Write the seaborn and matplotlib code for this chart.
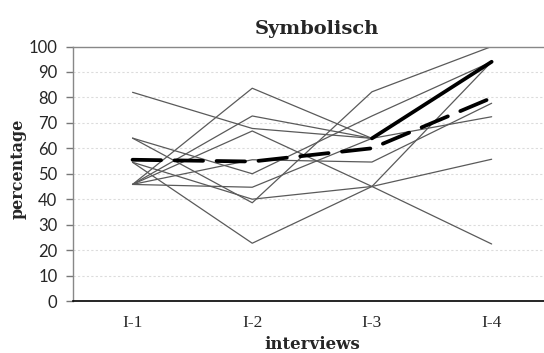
import numpy as np
import pandas as pd
import matplotlib
matplotlib.use("Agg")
import matplotlib.pyplot as plt
import seaborn as sns

# data
interviews = ["I-1", "I-2", "I-3", "I-4"]
p01 = [82.0, 67.8, 63.9, 94.0]
p02 = [64.0, 50.0, 72.7, 94.0]
p03 = [64.0, 38.6, 82.2, 100.0]
p04 = [54.5, 22.7, 45.0, 55.7]
p05 = [54.5, 40.0, 45.0, 22.4]
p06 = [45.8, 83.6, 63.9, 94.0]
p07 = [45.8, 72.7, 63.9, 72.4]
p08 = [45.8, 66.8, 45.0, 94.0]
p09 = [45.8, 55.5, 54.6, 77.7]
p10 = [45.8, 44.7, 63.9, 94.0]
mean_vals = [55.5, 54.8, 60.0, 79.8]
thick_vals = [np.nan, np.nan, 63.9, 94.0]
yticks = list(range(0, 101, 10))

participants = [p01, p02, p03, p04, p05, p06, p07, p08, p09, p10]
pos = np.arange(len(interviews))
df = pd.DataFrame(
    [(i, x, v) for i, vals in enumerate(participants) for x, v in zip(pos, vals)],
    columns=["participant", "pos", "value"],
)

sns.set_style("white")
plt.rcParams["font.family"] = ["DejaVu Serif"]

fig = plt.figure(figsize=(5.44, 3.53), dpi=100)
ax = fig.add_axes([72.7 / 544, 52 / 353, 478.8 / 544, 254.5 / 353])

for y in yticks[1:-1]:
    ax.axhline(y, color="#dcdcdc", lw=0.8, ls=(0, (2, 2)), zorder=0)

sns.lineplot(data=df, x="pos", y="value", units="participant", estimator=None,
             color="#5a5a5a", lw=0.9, ax=ax, legend=False)
sns.lineplot(x=pos, y=mean_vals, color="black", lw=2.7, ax=ax,
             linestyle=(0, (7.6, 3.6)), dash_capstyle="round")
sns.lineplot(x=pos, y=thick_vals, color="black", lw=2.7, ax=ax,
             solid_capstyle="round")

ax.set_xlim(-0.5, 3.5)
ax.set_ylim(0, 100)
ax.set_yticks(yticks)
ax.set_yticklabels([str(t) for t in yticks], family="Lato", fontsize=12)
ax.set_xticks(pos)
ax.set_xticklabels(interviews, family="Liberation Serif", fontsize=12.5)
ax.set_xticks(pos[:-1] + 0.5, minor=True)
ax.tick_params(axis="x", which="major", length=0, pad=10)
ax.tick_params(axis="x", which="minor", length=4, color="#555555", width=1)
ax.tick_params(axis="y", length=5, color="#777777", width=1, pad=6, left=True)

for side in ["left", "top"]:
    ax.spines[side].set_color("#888888")
    ax.spines[side].set_linewidth(1)
ax.spines["bottom"].set_color("black")
ax.spines["bottom"].set_linewidth(1.2)
ax.spines["right"].set_visible(False)

ax.set_xlabel("interviews", fontsize=12, fontweight="bold", labelpad=4)
ax.set_ylabel("percentage", fontsize=11.5, fontweight="bold", labelpad=6)
ax.yaxis.set_label_coords(-0.097, 0.52)
ax.set_title("Symbolisch", fontsize=14, fontweight="bold", pad=9, x=0.51)

fig.savefig("out.png", dpi=100)
